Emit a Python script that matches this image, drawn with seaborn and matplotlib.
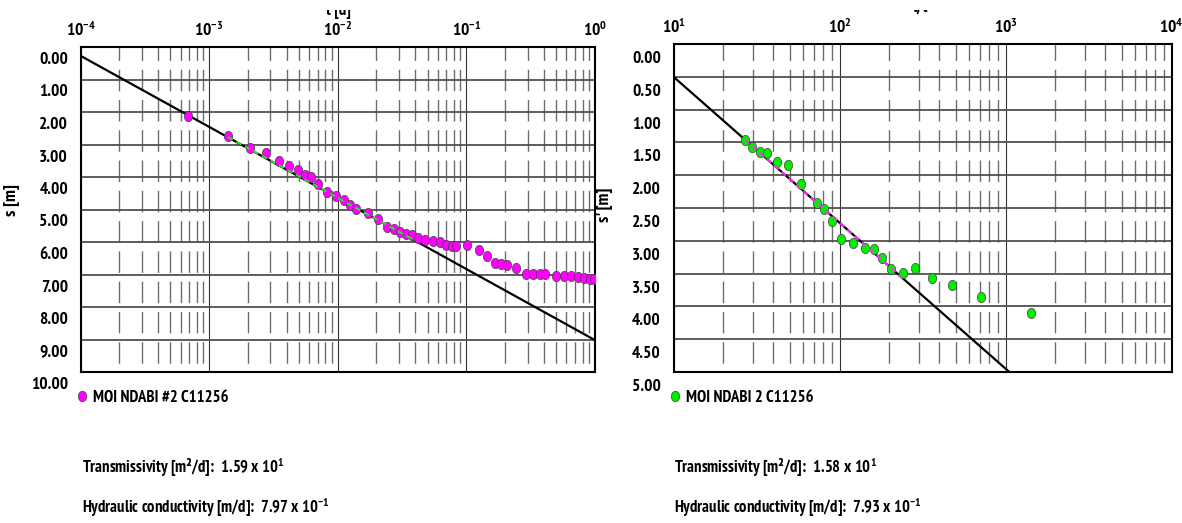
import matplotlib
matplotlib.use('Agg')
import matplotlib.pyplot as plt
import matplotlib.transforms as mtransforms
from matplotlib import font_manager as fm
from matplotlib.patches import Rectangle
from matplotlib.lines import Line2D
from matplotlib.ticker import FixedLocator, LogLocator, NullFormatter
import numpy as np
import seaborn as sns

# pumping test: time [d] vs drawdown s [m]
t_days = [6.9e-4, 1.39e-3, 2.07e-3, 2.79e-3, 3.49e-3, 4.17e-3, 4.88e-3, 5.52e-3,
          6.24e-3, 6.96e-3, 8.31e-3, 9.73e-3, 0.0111, 0.01245, 0.0138, 0.01726,
          0.0206, 0.0240, 0.0273, 0.0307, 0.0342, 0.0379, 0.0417, 0.0479, 0.0548,
          0.0624, 0.0696, 0.0777, 0.0826, 0.102, 0.1245, 0.1436, 0.167, 0.185,
          0.2065, 0.245, 0.290, 0.330, 0.371, 0.411, 0.494, 0.575, 0.650, 0.735,
          0.826, 0.914, 0.98]
s_m = [2.12, 2.74, 3.10, 3.27, 3.51, 3.65, 3.78, 3.94,
       3.99, 4.23, 4.45, 4.58, 4.71, 4.85, 4.99, 5.12,
       5.30, 5.54, 5.61, 5.69, 5.76, 5.79, 5.88, 5.93, 5.97,
       6.01, 6.08, 6.11, 6.11, 6.10, 6.24, 6.43, 6.64, 6.69,
       6.72, 6.80, 6.98, 6.98, 6.98, 6.98, 7.06, 7.05, 7.06, 7.08,
       7.11, 7.15, 7.15]
fit1_t = [1e-4, 1.0]
fit1_s = [0.27, 9.02]
match1_t = [1.4e-3, 0.040]
match1_s = [2.77, 5.96]

# recovery: t/t' vs residual drawdown s' [m]
t_ratio = [27.0, 29.6, 33.2, 36.7, 42.0, 49.0, 58.6, 73.0, 80.5, 90.6, 102.8,
           120.0, 142.8, 160.7, 180.0, 205.6, 239.9, 285.4, 359.0, 476.0, 710.0,
           1419.0]
s_res = [1.46, 1.57, 1.65, 1.66, 1.80, 1.85, 2.13, 2.43, 2.51, 2.70, 2.97,
         3.03, 3.11, 3.12, 3.26, 3.43, 3.49, 3.41, 3.57, 3.68, 3.85, 4.10]
fit2_t = [10.0, 1055.0]
fit2_s = [0.50, 5.00]
match2_t = [27.0, 240.0]
match2_s = [1.46, 3.57]

well1 = 'MOI NDABI #2 C11256'
well2 = 'MOI NDABI 2 C11256'
x1_decades = [1e-4, 1e-3, 1e-2, 1e-1, 1e0]
x1_labels = ['$10^{-4}$', '$10^{-3}$', '$10^{-2}$', '$10^{-1}$', '$10^{0}$']
x2_decades = [1e1, 1e2, 1e3, 1e4]
x2_labels = ['$10^{1}$', '$10^{2}$', '$10^{3}$', '$10^{4}$']
y1_ticks = [0.0, 1.0, 2.0, 3.0, 4.0, 5.0, 6.0, 7.0, 8.0, 9.0, 10.0]
y2_ticks = [0.0, 0.5, 1.0, 1.5, 2.0, 2.5, 3.0, 3.5, 4.0, 4.5, 5.0]
T1_text = 'Transmissivity [m²/d]:  1.59 x 10$^{1}$'
K1_text = 'Hydraulic conductivity [m/d]:  7.97 x 10$^{-1}$'
T2_text = 'Transmissivity [m²/d]:  1.58 x 10$^{1}$'
K2_text = 'Hydraulic conductivity [m/d]:  7.93 x 10$^{-1}$'

sns.set_style('white')

# narrow bold face, like Arial Narrow in the source
candidates = ['Liberation Sans Narrow', 'Arial Narrow', 'PT Sans Narrow',
              'Archivo Narrow', 'Roboto Condensed', 'Pragati Narrow']
FONT = 'DejaVu Sans'
for name in candidates:
    if any(f.name == name and int(f.weight) >= 600 for f in fm.fontManager.ttflist):
        FONT = name
        break

plt.rcParams['font.family'] = [FONT, 'DejaVu Sans']
plt.rcParams['font.weight'] = 'bold'
plt.rcParams['mathtext.fontset'] = 'custom'
plt.rcParams['mathtext.rm'] = FONT + ':bold'
plt.rcParams['mathtext.it'] = FONT + ':bold'
plt.rcParams['mathtext.bf'] = FONT + ':bold'
plt.rcParams['mathtext.default'] = 'rm'
plt.rcParams['lines.scale_dashes'] = False
for key in ['text.color', 'axes.labelcolor', 'xtick.color', 'ytick.color']:
    plt.rcParams[key] = 'black'

FS = 12
W, H = 1182, 523
fig = plt.figure(figsize=(W / 100, H / 100), dpi=100)
ax1 = fig.add_axes([80.5 / W, 151 / H, 514.5 / W, 325 / H])
ax2 = fig.add_axes([673.5 / W, 151 / H, 498 / W, 328 / H])

theta = np.linspace(0, 2 * np.pi, 40)
oval = np.column_stack([0.8 * np.cos(theta), np.sin(theta)])


def style_axes(ax, decades, dec_labels, yticks, ylab, label_shift):
    ax.set_xscale('log')
    ax.set_xlim(decades[0], decades[-1])
    ax.set_ylim(yticks[-1], yticks[0])
    ax.xaxis.set_major_locator(FixedLocator(decades))
    ax.set_xticklabels(dec_labels)
    ax.xaxis.set_minor_locator(LogLocator(base=10, subs=[2, 3, 4, 5, 6, 7, 8, 9]))
    ax.xaxis.set_minor_formatter(NullFormatter())
    ax.xaxis.set_ticks_position('top')
    ax.set_yticks(yticks)
    ax.set_yticklabels([f'{v:.2f}' for v in yticks])
    ax.tick_params(axis='both', which='both', length=0, labelsize=12.5)
    ax.tick_params(axis='x', pad=5)
    ax.tick_params(axis='y', pad=9)
    ax.set_axisbelow(True)
    ax.grid(which='major', axis='x', color='#333333', lw=0.8)
    ax.grid(which='minor', axis='x', color='#6e6e6e', lw=1.0,
            linestyle=(15.5, (15.5, 6.3)))
    ax.grid(which='major', axis='y', color='#505050', lw=1.3)
    for sp in ax.spines.values():
        sp.set_color('black')
        sp.set_linewidth(1.5)
    ax.set_xlabel('')
    ax.set_ylabel(ylab, fontsize=13, fontweight='bold')
    shift = mtransforms.ScaledTranslation(0, -label_shift / 100, fig.dpi_scale_trans)
    for tick in ax.yaxis.get_major_ticks():
        tick.label1.set_transform(tick.label1.get_transform() + shift)


def draw_panel(ax, x, y, fx, fy, mx, my, color, mcolor):
    sns.lineplot(x=fx, y=fy, ax=ax, color='black', lw=1.6, zorder=3)
    sns.scatterplot(x=x, y=y, ax=ax, color=color, marker=oval, s=55,
                    edgecolor='#404040', linewidth=0.5, zorder=4, legend=False)
    sns.lineplot(x=mx, y=my, ax=ax, color=mcolor, lw=1.4, zorder=5,
                 linestyle=(0, (4, 3)))


ax1.set_xscale('log')
ax2.set_xscale('log')
draw_panel(ax1, t_days, s_m, fit1_t, fit1_s, match1_t, match1_s, '#ff00ff', '#33dd33')
draw_panel(ax2, t_ratio, s_res, fit2_t, fit2_s, match2_t, match2_s, '#00ee00', '#ff33ff')

style_axes(ax1, x1_decades, x1_labels, y1_ticks, 's [m]', 11)
style_axes(ax2, x2_decades, x2_labels, y2_ticks, "s' [m]", 13)
ax1.yaxis.set_label_coords(-0.118, 0.53)
ax2.yaxis.set_label_coords(-0.121, 0.51)

# legends below each plot
for ax, name, color, x0 in [(ax1, well1, '#ff00ff', 75), (ax2, well2, '#00ee00', 668)]:
    h = Line2D([], [], ls='none', marker=oval, markersize=7.5, color=color,
               markeredgecolor='#404040', markeredgewidth=0.5)
    ax.legend([h], [name], loc='center left', bbox_to_anchor=(x0 / W, 1 - 398 / H),
              bbox_transform=fig.transFigure, frameon=False, fontsize=FS,
              handlelength=0.8, handletextpad=0.3, borderpad=0, borderaxespad=0)

# axis titles (partly hidden by the top strip, as in the source)
fig.text(338 / W, 1 - 15 / H, 't [d]', ha='center', va='baseline', fontsize=FS, zorder=1)
fig.text(922 / W, 1 - 12 / H, "t/t'", ha='center', va='baseline', fontsize=FS, zorder=1)
fig.add_artist(Rectangle((0, 1 - 10 / H), 1, 10 / H, transform=fig.transFigure,
                         facecolor='white', edgecolor='none', zorder=10))

# aquifer parameters
fig.text(81.5 / W, 1 - 468 / H, T1_text, ha='left', va='center', fontsize=FS)
fig.text(81.5 / W, 1 - 508 / H, K1_text, ha='left', va='center', fontsize=FS)
fig.text(674 / W, 1 - 468 / H, T2_text, ha='left', va='center', fontsize=FS)
fig.text(674 / W, 1 - 508 / H, K2_text, ha='left', va='center', fontsize=FS)

fig.savefig('out.png', dpi=100)
